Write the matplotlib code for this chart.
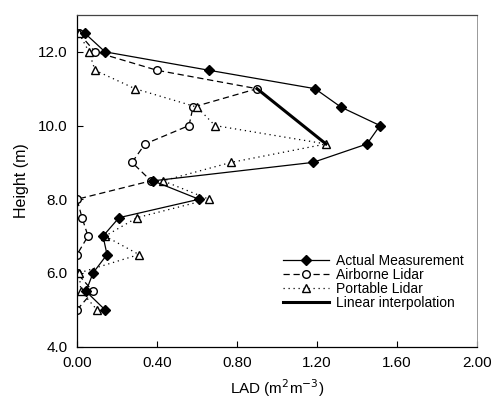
import matplotlib
matplotlib.use("Agg")
from matplotlib import pyplot as plt
from matplotlib.ticker import FormatStrFormatter

plt.rcParams["font.family"] = ["Liberation Sans", "DejaVu Sans"]

# Höhen (m)
height = [12.5, 12.0, 11.5, 11.0, 10.5, 10.0, 9.5, 9.0, 8.5, 8.0,
          7.5, 7.0, 6.5, 6.0, 5.5, 5.0]

# LAD-Werte (m2 m-3)
actual = [0.04, 0.14, 0.66, 1.19, 1.32, 1.515, 1.45, 1.18, 0.38, 0.61,
          0.21, 0.13, 0.15, 0.08, 0.045, 0.14]
airborne = [0.01, 0.09, 0.40, 0.90, 0.58, 0.56, 0.34, 0.275, 0.37, 0.0,
            0.025, 0.055, 0.0, 0.0, 0.08, 0.0]
portable = [0.01, 0.06, 0.09, 0.29, 0.60, 0.69, 1.245, 0.77, 0.43, 0.66,
            0.30, 0.14, 0.31, 0.01, 0.02, 0.10]

# lineare Interpolation zwischen Airborne (11.0) und Portable (9.5)
interp_x = [airborne[3], portable[6]]
interp_y = [height[3], height[6]]

x_ticks = [0.0, 0.4, 0.8, 1.2, 1.6, 2.0]
y_ticks = [4.0, 6.0, 8.0, 10.0, 12.0]

fig = plt.figure(figsize=(4.95, 4.05), dpi=100)
ax = fig.add_axes([0.1556, 0.144, 0.808, 0.819])

ax.plot(airborne, height, linestyle=(0, (5, 3)), color="black", linewidth=0.9,
        marker="o", markerfacecolor="white", markeredgecolor="black",
        markersize=5.5, label="Airborne Lidar", zorder=2)
ax.plot(portable, height, linestyle=(0, (1, 3)), color="black", linewidth=0.9,
        marker="^", markerfacecolor="white", markeredgecolor="black",
        markersize=6, label="Portable Lidar", zorder=2)
ax.plot(actual, height, linestyle="-", color="black", linewidth=0.9,
        marker="D", markerfacecolor="black", markeredgecolor="black",
        markersize=5, label="Actual Measurement", zorder=3)
ax.plot(interp_x, interp_y, linestyle="-", color="black", linewidth=2.2,
        label="Linear interpolation", zorder=4)

ax.set_xlim(0, 2.0)
ax.set_ylim(4.0, 13.0)
ax.set_xticks(x_ticks)
ax.set_yticks(y_ticks)
ax.xaxis.set_major_formatter(FormatStrFormatter("%.2f"))
ax.yaxis.set_major_formatter(FormatStrFormatter("%.1f"))
ax.tick_params(direction="in", length=4, width=0.8, labelsize=11, pad=7)

for side in ["left", "bottom"]:
    ax.spines[side].set_linewidth(0.9)
ax.spines["top"].set_color("#444444")
ax.spines["top"].set_linewidth(0.9)
ax.spines["right"].set_color("#999999")
ax.spines["right"].set_linewidth(0.7)

ax.set_xlabel("LAD (m$^2$m$^{-3}$)", fontsize=11, labelpad=5)
ax.set_ylabel("Height (m)", fontsize=11.5, labelpad=6)

handles, labels = ax.get_legend_handles_labels()
order = [2, 0, 1, 3]
ax.legend([handles[i] for i in order], [labels[i] for i in order],
          loc="upper left", bbox_to_anchor=(0.49, 0.31), frameon=False,
          fontsize=10, handlelength=3.3, handletextpad=0.5,
          labelspacing=0.0, borderpad=0.2)

fig.savefig("out.png", dpi=100)
